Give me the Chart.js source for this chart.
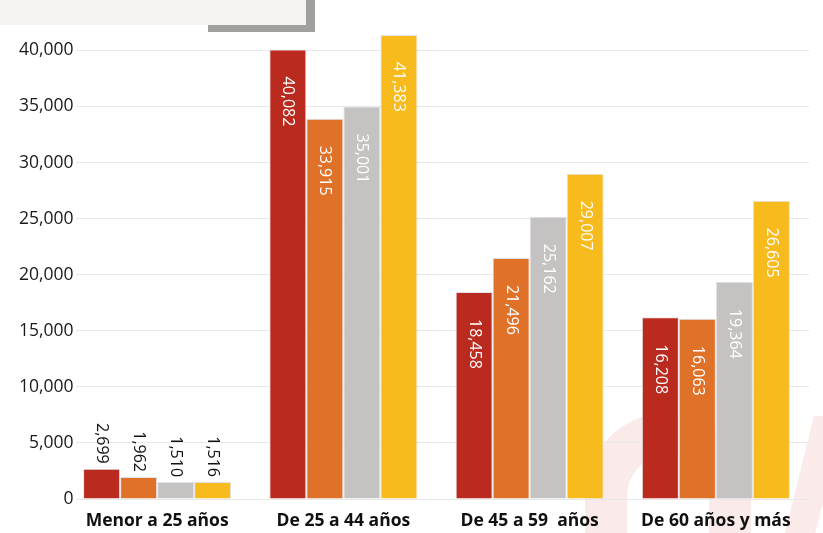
<!DOCTYPE html>
<html>
<head>
<meta charset="utf-8">
<script src="https://cdn.jsdelivr.net/npm/chart.js@4"></script>
<style>
    html, body { margin: 0; padding: 0; background: #ffffff; }
    #wrap { position: relative; width: 823px; height: 533px; }
    .box { position: absolute; }
</style>
</head>
<body>
<div id="wrap">
    <canvas id="ageChart" width="823" height="533"></canvas>
    <div class="box" style="left:0;top:0;width:306px;height:25px;background:#f5f4f2;"></div>
    <div class="box" style="left:306px;top:0;width:9px;height:32px;background:#a0a09f;"></div>
    <div class="box" style="left:208px;top:25px;width:98px;height:7px;background:#a0a09f;"></div>
</div>
<script>
// Data
const categories = ['Menor a 25 años', 'De 25 a 44 años', 'De 45 a 59  años', 'De 60 años y más'];
const serie1 = [2699, 40082, 18458, 16208];
const serie2 = [1962, 33915, 21496, 16063];
const serie3 = [1510, 35001, 25162, 19364];
const serie4 = [1516, 41383, 29007, 26605];
const yTicks = [0, 5000, 10000, 15000, 20000, 25000, 30000, 35000, 40000];

const colors = ['#bb2a1f', '#e07128', '#c4c3c2', '#f8bb1e'];
const fontFamily = '"Open Sans", "Noto Sans", sans-serif';

function fmt(v) {
    return v.toLocaleString('en-US');
}

// faint watermark behind the plot
const watermark = {
    id: 'watermark',
    beforeDraw(chart) {
        const c = chart.ctx;
        c.save();
        c.fillStyle = '#fbeaea';
        c.strokeStyle = '#fbeaea';
        c.lineWidth = 42;
        c.beginPath();
        c.moveTo(606, 545);
        c.lineTo(606, 496);
        c.arc(668, 496, 62, Math.PI, 0);
        c.lineTo(730, 545);
        c.stroke();
        c.beginPath();
        c.moveTo(814, 416);
        c.lineTo(846, 416);
        c.lineTo(812, 545);
        c.lineTo(782, 545);
        c.closePath();
        c.fill();
        c.restore();
    }
};

// rotated value labels
const valueLabels = {
    id: 'valueLabels',
    afterDatasetsDraw(chart) {
        const c = chart.ctx;
        c.save();
        c.font = '16px ' + fontFamily;
        c.textBaseline = 'middle';
        chart.data.datasets.forEach((ds, di) => {
            const meta = chart.getDatasetMeta(di);
            meta.data.forEach((bar, i) => {
                const txt = fmt(ds.data[i]);
                const h = bar.base - bar.y;
                c.save();
                if (h < 70) {
                    c.translate(bar.x, bar.y - 5);
                    c.rotate(Math.PI / 2);
                    c.textAlign = 'right';
                    c.fillStyle = '#111111';
                } else {
                    c.translate(bar.x, bar.y + 27);
                    c.rotate(Math.PI / 2);
                    c.textAlign = 'left';
                    c.fillStyle = '#ffffff';
                }
                c.fillText(txt, 0, 0);
                c.restore();
            });
        });
        c.restore();
    }
};

const ctx = document.getElementById('ageChart').getContext('2d');
const chart = new Chart(ctx, {
    type: 'bar',
    data: {
        labels: categories,
        datasets: [serie1, serie2, serie3, serie4].map((d, i) => ({
            label: 'Serie ' + (i + 1),
            data: d,
            backgroundColor: colors[i],
            borderColor: '#e2e2e8',
            borderWidth: 1,
            categoryPercentage: 0.795,
            barPercentage: 1.0
        }))
    },
    options: {
        responsive: false,
        animation: false,
        layout: {
            padding: { top: 28, right: 14, bottom: 3, left: 0 }
        },
        plugins: {
            legend: { display: false },
            tooltip: { enabled: false }
        },
        scales: {
            x: {
                afterFit(scale) {
                    scale.height = 31;
                },
                grid: { display: false, drawTicks: false },
                border: { display: false },
                ticks: {
                    color: '#111111',
                    padding: 12,
                    maxRotation: 0,
                    font: { family: fontFamily, size: 17.5, weight: 'bold' }
                }
            },
            y: {
                min: 0,
                max: 42000,
                afterBuildTicks(scale) {
                    scale.ticks = yTicks.map(v => ({ value: v }));
                },
                afterFit(scale) {
                    scale.width = 64;
                },
                grid: {
                    color: '#e8e8e8',
                    lineWidth: 1,
                    drawTicks: false
                },
                border: { display: false },
                ticks: {
                    color: '#1a1a1a',
                    mirror: true,
                    crossAlign: 'far',
                    padding: -45,
                    showLabelBackdrop: true,
                    backdropColor: '#ffffff',
                    backdropPadding: { top: 0, bottom: 0, left: 0, right: 2 },
                    font: { family: fontFamily, size: 17.5 },
                    callback: v => fmt(v)
                }
            }
        }
    },
    plugins: [watermark, valueLabels]
});
</script>
</body>
</html>
